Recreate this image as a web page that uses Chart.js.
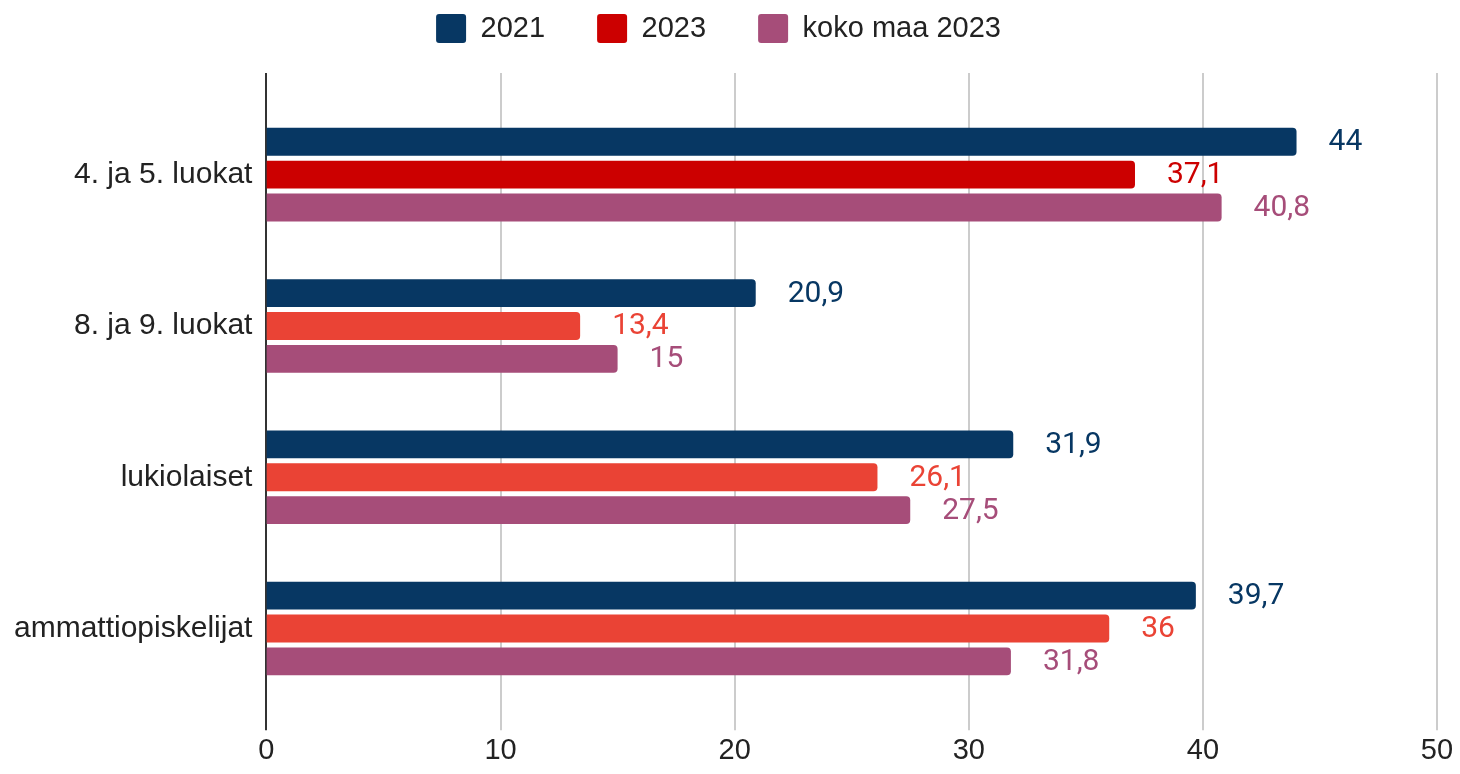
<!DOCTYPE html>
<html>
<head>
<meta charset="utf-8">
<script src="https://cdn.jsdelivr.net/npm/chart.js@4"></script>
<style>
  html, body { margin: 0; padding: 0; background: #fff; }
  #wrap { width: 1460px; height: 774px; }
</style>
</head>
<body>
<div id="wrap"><canvas id="bars"></canvas></div>
<script>
// data
const categories = ["4. ja 5. luokat", "8. ja 9. luokat", "lukiolaiset", "ammattiopiskelijat"];
const seriesNames = ["2021", "2023", "koko maa 2023"];
const values2021 = [44, 20.9, 31.9, 39.7];
const values2023 = [37.1, 13.4, 26.1, 36];
const valuesKoko = [40.8, 15, 27.5, 31.8];
const xTicks = [0, 10, 20, 30, 40, 50];

const navy = "#073763";
const red = "#ea4335";
const darkRed = "#cc0000";
const plum = "#a64d79";

// grid lines run a bit past the bar area, like in the sheet export
const gridOverhang = 26;

const gridPlugin = {
  id: "longGrid",
  beforeDatasetsDraw(chart) {
    const { ctx, chartArea, scales } = chart;
    ctx.save();
    xTicks.forEach(v => {
      const x = Math.round(scales.x.getPixelForValue(v));
      ctx.beginPath();
      ctx.lineWidth = 2;
      ctx.strokeStyle = v === 0 ? "#333333" : "#cccccc";
      ctx.moveTo(x, chartArea.top - gridOverhang);
      ctx.lineTo(x, chartArea.bottom + gridOverhang);
      ctx.stroke();
    });
    ctx.restore();
  }
};

const valueLabels = {
  id: "valueLabels",
  afterDatasetsDraw(chart) {
    const { ctx } = chart;
    ctx.save();
    ctx.font = "30px Roboto";
    ctx.textBaseline = "middle";
    ctx.textAlign = "left";
    chart.data.datasets.forEach((ds, di) => {
      const meta = chart.getDatasetMeta(di);
      meta.data.forEach((bar, i) => {
        const bg = typeof ds.backgroundColor === "function"
          ? ds.backgroundColor({ dataIndex: i }) : ds.backgroundColor;
        ctx.fillStyle = bg;
        ctx.fillText(String(ds.data[i]).replace(".", ","), bar.x + 32, bar.y + 1);
      });
    });
    ctx.restore();
  }
};

const legendGap = {
  id: "legendGap",
  beforeInit(chart) {
    const origFit = chart.legend.fit;
    chart.legend.fit = function () {
      origFit.bind(this)();
      this.height += 46;
    };
  }
};

new Chart(document.getElementById("bars"), {
  type: "bar",
  data: {
    labels: categories,
    datasets: [
      { label: seriesNames[0], data: values2021, backgroundColor: navy },
      { label: seriesNames[1], data: values2023,
        backgroundColor: c => (c.dataIndex === 0 ? darkRed : red) },
      { label: seriesNames[2], data: valuesKoko, backgroundColor: plum }
    ]
  },
  options: {
    indexAxis: "y",
    responsive: true,
    maintainAspectRatio: false,
    animation: false,
    datasets: {
      bar: { categoryPercentage: 0.652, barPercentage: 0.848, borderRadius: 4, borderSkipped: "start" }
    },
    layout: { padding: { left: 0, right: 23, top: -38, bottom: -23 } },
    scales: {
      x: {
        min: 0, max: 50,
        afterBuildTicks: s => { s.ticks = xTicks.map(v => ({ value: v })); },
        afterFit: s => { s.paddingLeft = 0; s.paddingRight = 0; },
        grid: { display: false, drawTicks: false },
        border: { display: false },
        ticks: { color: "#222", padding: 29, font: { family: "Liberation Sans", size: 29 } }
      },
      y: {
        grid: { display: false, drawTicks: false },
        border: { display: false },
        ticks: { color: "#222", padding: 14, font: { family: "Liberation Sans", size: 30 } }
      }
    },
    plugins: {
      legend: {
        position: "top",
        labels: {
          boxWidth: 30, boxHeight: 29, padding: 52,
          useBorderRadius: true, borderRadius: 3,
          color: "#222", font: { family: "Liberation Sans", size: 29 }
        }
      },
      tooltip: { enabled: false }
    }
  },
  plugins: [gridPlugin, valueLabels, legendGap]
});
</script>
</body>
</html>
